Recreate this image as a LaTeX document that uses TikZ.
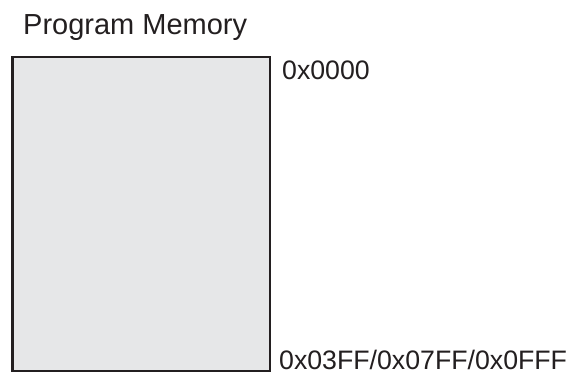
\documentclass[tikz,border=0pt]{standalone}
\usepackage{fontspec}
\setmainfont{Liberation Sans}
\definecolor{memfill}{HTML}{E6E7E8}
\definecolor{memline}{HTML}{231F20}
\begin{document}
\begin{tikzpicture}[x=1pt,y=-1pt,
  lbl/.style={inner sep=0pt, anchor=base west, text=memline},
  membox/.style={draw=memline, line width=2.6pt, fill=memfill}]
\useasboundingbox (0,0) rectangle (569,374);
\fill[white] (0,0) rectangle (569,374);
\node[lbl, font=\fontsize{29}{31}\selectfont] (title) at (23,35) {Program Memory};
\draw[membox] (12.5,57) rectangle (270,371);
\node[lbl, font=\fontsize{26.7}{28}\selectfont] (top) at (282,80) {0x0000};
\node[lbl, font=\fontsize{26.7}{28}\selectfont] (bot) at (279,369.5) {0x03FF/0x07FF/0x0FFF};
\end{tikzpicture}
\end{document}
